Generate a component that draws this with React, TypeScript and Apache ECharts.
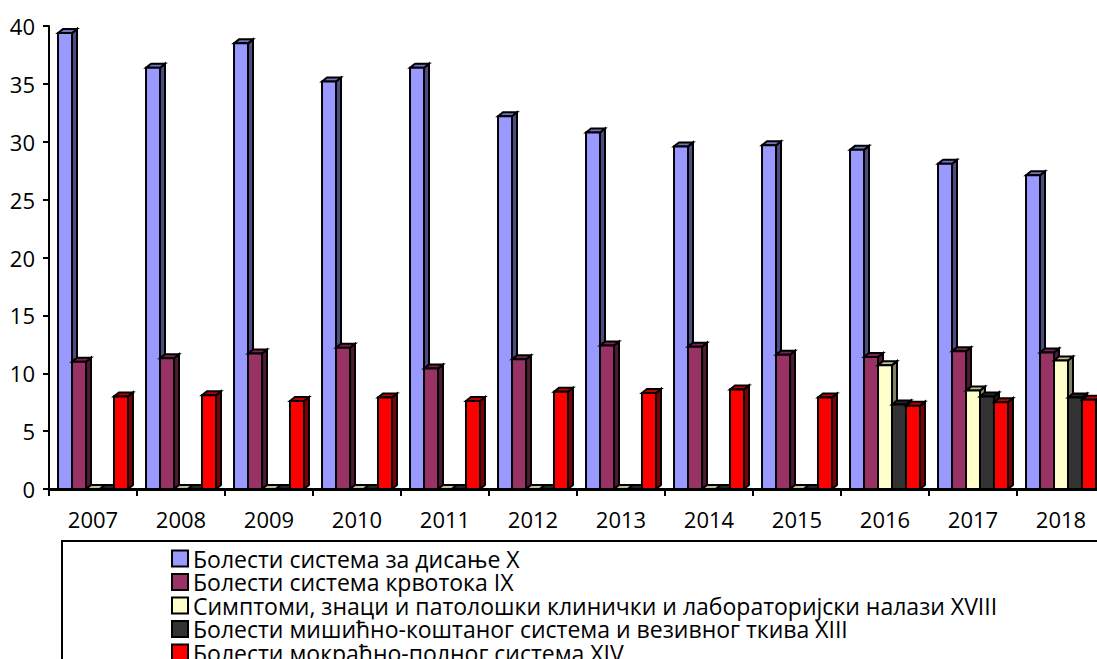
import React, { useEffect, useRef } from "react";
import * as echarts from "echarts";

const years = ["2007", "2008", "2009", "2010", "2011", "2012", "2013", "2014", "2015", "2016", "2017", "2018"];
const respiratory = [39.4, 36.4, 38.5, 35.2, 36.4, 32.2, 30.8, 29.6, 29.7, 29.3, 28.1, 27.1];
const circulatory = [11.0, 11.3, 11.7, 12.2, 10.4, 11.2, 12.4, 12.3, 11.6, 11.4, 11.9, 11.8];
const symptoms = [0, 0, 0, 0, 0, 0, 0, 0, 0, 10.7, 8.5, 11.1];
const musculoskeletal = [0, 0, 0, 0, 0, 0, 0, 0, 0, 7.3, 8.0, 7.9];
const genitourinary = [8.0, 8.1, 7.6, 7.9, 7.6, 8.4, 8.3, 8.6, 7.9, 7.2, 7.5, 7.7];
const yTicks = { min: 0, max: 40, interval: 5 };

const seriesNames = [
  "Болести система за дисање X",
  "Болести система крвотока IX",
  "Симптоми, знаци и патолошки клинички и лабораторијски налази XVIII",
  "Болести мишићно-коштаног система и везивног ткива XIII",
  "Болести мокраћно-полног система XIV",
];
const seriesValues = [respiratory, circulatory, symptoms, musculoskeletal, genitourinary];
const faceColors = [
  { front: "#9999FF", side: "#4d4d80", top: "#7373bf" },
  { front: "#993366", side: "#4d1a33", top: "#732650" },
  { front: "#FFFFCC", side: "#808066", top: "#bfbf99" },
  { front: "#333333", side: "#1a1a1a", top: "#262626" },
  { front: "#FF0000", side: "#800000", top: "#bf0000" },
];

const FONT = "'Open Sans', 'Noto Sans', sans-serif";
const DX = 5;
const DY = 4;
const BAR_FRACTION = 0.159;

function makeRenderItem(sIdx: number) {
  const c = faceColors[sIdx];
  return (params: any, api: any) => {
    const cat = api.value(0);
    const val = api.value(1);
    const base = api.coord([cat, 0]);
    const top = api.coord([cat, val]);
    const catW = api.size([1, 0])[0];
    const barW = catW * BAR_FRACTION;
    const groupW = barW * seriesValues.length;
    const x0 = base[0] - groupW / 2 + sIdx * barW;
    const x1 = x0 + barW;
    const yB = base[1];
    const yT = top[1];
    const stroke = { stroke: "#000", lineWidth: 2, lineJoin: "miter" };
    return {
      type: "group",
      children: [
        {
          type: "polygon",
          shape: { points: [[x1, yB], [x1 + DX, yB - DY], [x1 + DX, yT - DY], [x1, yT]] },
          style: { fill: c.side, ...stroke },
        },
        {
          type: "polygon",
          shape: { points: [[x0, yT], [x0 + DX, yT - DY], [x1 + DX, yT - DY], [x1, yT]] },
          style: { fill: c.top, ...stroke },
        },
        {
          type: "rect",
          shape: { x: x0, y: yT, width: barW, height: yB - yT },
          style: { fill: c.front, ...stroke },
        },
      ],
    };
  };
}

export default function App() {
  const ref = useRef<HTMLDivElement>(null);
  useEffect(() => {
    if (!ref.current) return;
    const chart = echarts.init(ref.current, null, { renderer: "svg" });
    chart.setOption({
      animation: false,
      backgroundColor: "#ffffff",
      textStyle: { fontFamily: FONT, color: "#000" },
      grid: { left: 49, top: 26, width: 1056, height: 463, containLabel: false, outerBoundsMode: "none" },
      xAxis: {
        type: "category",
        data: years,
        boundaryGap: true,
        axisLine: { show: true, lineStyle: { color: "#000", width: 3 } },
        axisTick: { show: true, length: 7, lineStyle: { color: "#000", width: 2 } },
        axisLabel: { color: "#000", fontSize: 22, fontFamily: FONT, margin: 19, interval: 0 },
        splitLine: { show: false },
      },
      yAxis: {
        type: "value",
        min: yTicks.min,
        max: yTicks.max,
        interval: yTicks.interval,
        axisLine: { show: true, lineStyle: { color: "#000", width: 2 } },
        axisTick: { show: true, length: 6, lineStyle: { color: "#000", width: 2 } },
        axisLabel: { color: "#000", fontSize: 22, fontFamily: FONT, margin: 14 },
        splitLine: { show: false },
      },
      legend: {
        show: true,
        orient: "vertical",
        left: 171,
        top: 547,
        height: 400,
        padding: 0,
        icon: "rect",
        itemWidth: 16,
        itemHeight: 16,
        itemGap: 0.5,
        itemStyle: { borderColor: "#000", borderWidth: 2 },
        textStyle: { color: "#000", fontSize: 23, lineHeight: 22, fontFamily: FONT },
        data: seriesNames,
        selectedMode: false,
      },
      graphic: [
        {
          type: "rect",
          shape: { x: 62, y: 541, width: 1100, height: 200 },
          style: { fill: "none", stroke: "#000", lineWidth: 2 },
          silent: true,
          z: -1,
        },
      ],
      series: seriesValues.map((vals, sIdx) => ({
        type: "custom",
        name: seriesNames[sIdx],
        itemStyle: { color: faceColors[sIdx].front },
        renderItem: makeRenderItem(sIdx),
        encode: { x: 0, y: 1 },
        data: vals.map((v, i) => [i, v]),
        clip: false,
        z: 2 + sIdx,
      })),
    });
    return () => chart.dispose();
  }, []);
  return <div ref={ref} style={{ position: "absolute", left: 0, top: 0, width: 1097, height: 659 }} />;
}
